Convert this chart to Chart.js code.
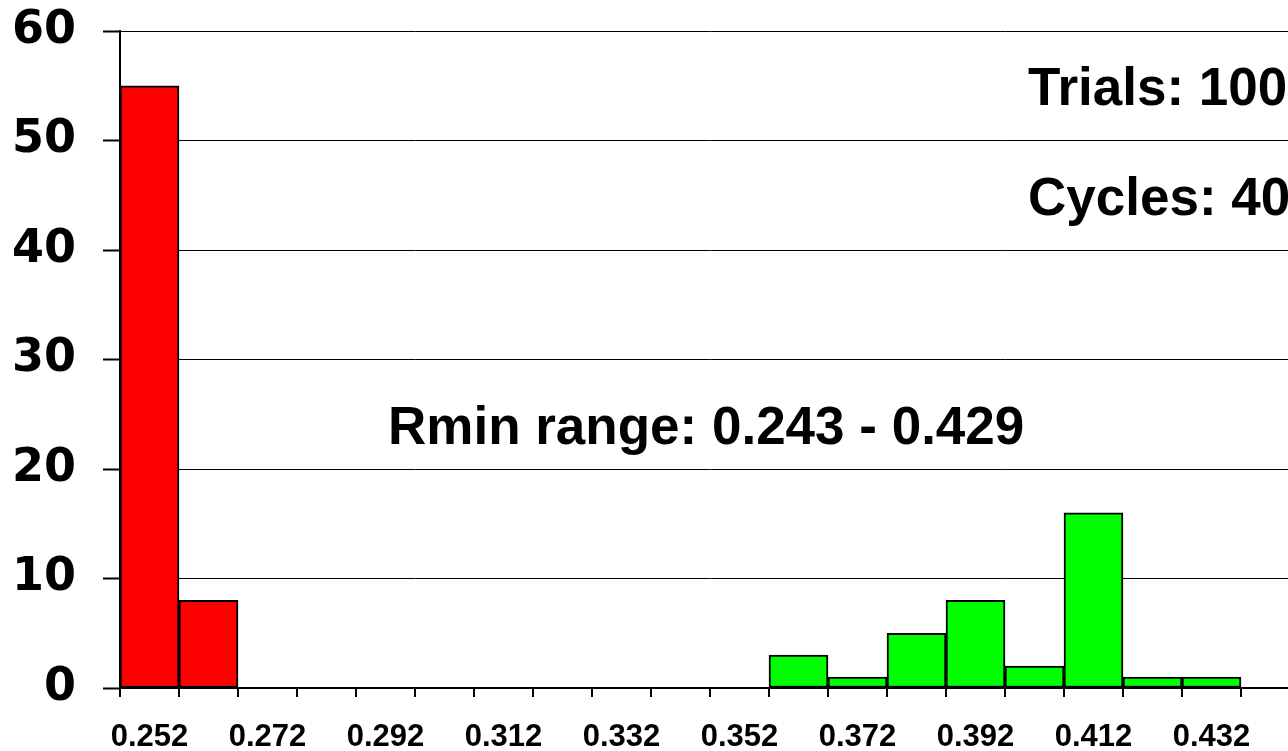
<!DOCTYPE html>
<html>
<head>
<meta charset="utf-8">
<script src="https://cdn.jsdelivr.net/npm/chart.js@4.4.1/dist/chart.umd.min.js"></script>
<style>
  html, body { margin: 0; padding: 0; background: #fff; overflow: hidden; }
  #wrap { width: 1300px; height: 751px; }
</style>
</head>
<body>
<div id="wrap"><canvas id="chart" width="1300" height="751"></canvas></div>
<script>
// Bin labels (Rmin values)
const binLabels = ['0.252', '0.262', '0.272', '0.282', '0.292', '0.302', '0.312', '0.322', '0.332', '0.342',
                   '0.352', '0.362', '0.372', '0.382', '0.392', '0.402', '0.412', '0.422', '0.432', '0.442'];
// Counts per bin, split into the two groups
const lowCounts  = [55, 8, null, null, null, null, null, null, null, null,
                    null, null, null, null, null, null, null, null, null, null];
const highCounts = [null, null, null, null, null, null, null, null, null, null,
                    null, 3, 1, 5, 8, 2, 16, 1, 1, null];
const yTicks = [0, 10, 20, 30, 40, 50, 60];
const notes = ['Rmin range: 0.243 - 0.429', 'Trials: 100', 'Cycles: 40'];

// Draw the text annotations on top of the plot
const notesPlugin = {
    id: 'notes',
    afterDraw(chart) {
        const ctx = chart.ctx;
        const y = chart.scales.y;
        const area = chart.chartArea;
        ctx.save();
        ctx.fillStyle = '#000';
        ctx.font = 'bold 53px "Liberation Sans", Arial, sans-serif';
        ctx.textAlign = 'left';
        ctx.textBaseline = 'alphabetic';
        ctx.fillText(notes[0], area.left + 268, y.getPixelForValue(22.3));
        ctx.fillText(notes[1], area.left + 908, y.getPixelForValue(53.2));
        ctx.fillText(notes[2], area.left + 908, y.getPixelForValue(43.2));
        ctx.restore();
    }
};

const ctx = document.getElementById('chart').getContext('2d');
new Chart(ctx, {
    type: 'bar',
    data: {
        labels: binLabels,
        datasets: [
            {
                data: lowCounts,
                backgroundColor: '#ff0000',
                borderColor: '#000',
                borderWidth: 2,
                borderSkipped: false,
                grouped: false,
                barPercentage: 1,
                categoryPercentage: 1
            },
            {
                data: highCounts,
                backgroundColor: '#00ff00',
                borderColor: '#000',
                borderWidth: 2,
                borderSkipped: false,
                grouped: false,
                barPercentage: 1,
                categoryPercentage: 1
            }
        ]
    },
    options: {
        responsive: false,
        animation: false,
        devicePixelRatio: 1,
        layout: { padding: { top: 31, right: 0, left: 0, bottom: 0 } },
        plugins: {
            legend: { display: false },
            tooltip: { enabled: false }
        },
        scales: {
            x: {
                offset: true,
                grid: {
                    offset: true,
                    drawOnChartArea: false,
                    drawTicks: true,
                    tickLength: 9,
                    color: '#000',
                    lineWidth: 2
                },
                border: { color: '#000', width: 2 },
                ticks: {
                    autoSkip: false,
                    maxRotation: 0,
                    padding: 22,
                    color: '#000',
                    font: { family: '"Liberation Sans", Arial, sans-serif', size: 31, weight: 'bold' },
                    callback: function(value, index) {
                        return index % 2 === 0 ? binLabels[index] : '';
                    }
                },
                afterFit: function(scale) {
                    scale.height = 63;
                    scale.paddingLeft = 0;
                    scale.paddingRight = 0;
                }
            },
            y: {
                min: yTicks[0],
                max: yTicks[yTicks.length - 1],
                afterBuildTicks: function(scale) {
                    scale.ticks = yTicks.map(v => ({ value: v }));
                },
                grid: {
                    color: '#000',
                    lineWidth: 1,
                    tickLength: 17,
                    tickWidth: 2
                },
                border: { color: '#000', width: 2 },
                ticks: {
                    padding: 27,
                    color: '#000',
                    font: { family: '"DejaVu Sans", Verdana, sans-serif', size: 46, weight: 'bold' }
                },
                afterFit: function(scale) {
                    scale.width = 120;
                    scale.paddingTop = 0;
                    scale.paddingBottom = 0;
                }
            }
        }
    },
    plugins: [notesPlugin]
});
</script>
</body>
</html>
